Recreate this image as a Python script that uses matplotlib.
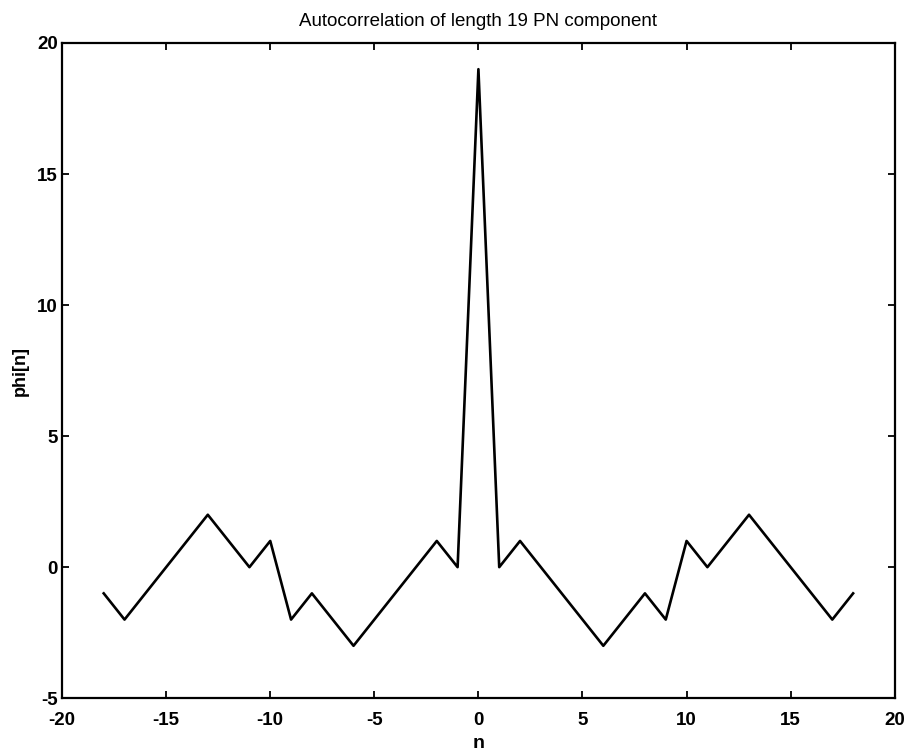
import numpy as np
import matplotlib
matplotlib.use("Agg")
import matplotlib.pyplot as plt

# autocorrelation values, lags -18..18
lags = list(range(-18, 19))
phi = [-1, -2, -1, 0, 1, 2, 1, 0, 1, -2, -1, -2, -3, -2, -1, 0, 1, 0,
       19,
       0, 1, 0, -1, -2, -3, -2, -1, -2, 1, 0, 1, 2, 1, 0, -1, -2, -1]

xticks = [-20, -15, -10, -5, 0, 5, 10, 15, 20]
yticks = [-5, 0, 5, 10, 15, 20]

plt.rcParams['font.family'] = ['Liberation Sans', 'DejaVu Sans']
plt.rcParams['axes.unicode_minus'] = False

fig = plt.figure(figsize=(9.13, 7.54), dpi=100)
# axes box: x 62..895, y 43..698 px
ax = fig.add_axes([0.068, 0.074, 0.912, 0.869])

ax.plot(lags, phi, color='black', linewidth=1.9)

ax.set_xlim(-20, 20)
ax.set_ylim(-5, 20)
ax.set_xticks(xticks)
ax.set_yticks(yticks)
ax.tick_params(direction='in', length=5, width=1.3, top=True, right=True,
               labelsize=13.5, pad=3)
ax.tick_params(axis='x', pad=10)
for lab in ax.get_xticklabels() + ax.get_yticklabels():
    lab.set_fontweight('bold')
for sp in ax.spines.values():
    sp.set_linewidth(1.6)

ax.set_xlabel('n', fontsize=14, fontweight='bold', labelpad=4)
ax.set_ylabel('phi[n]', fontsize=13, fontweight='bold', labelpad=6)
ax.set_title('Autocorrelation of length 19 PN component', fontsize=13.5,
             pad=12)

fig.savefig('out.png', dpi=100)
